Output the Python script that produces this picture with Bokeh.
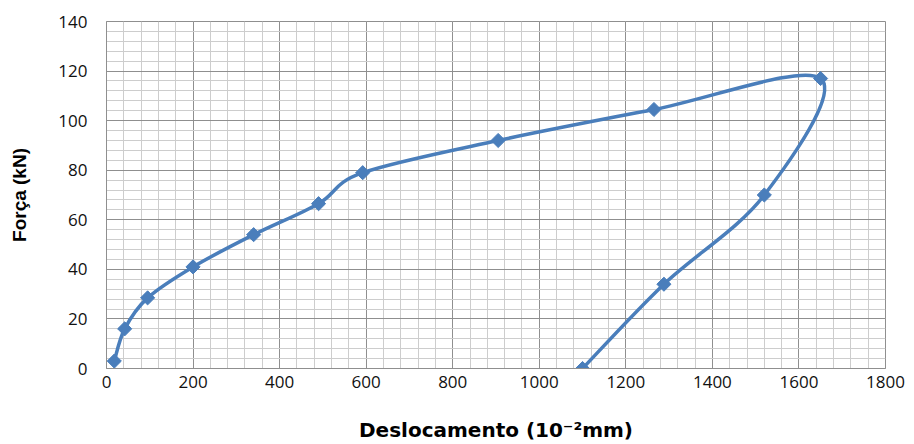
import math
from bokeh.plotting import figure
from bokeh.models import SingleIntervalTicker, Range1d, ColumnDataSource
from bokeh.embed import file_html
from bokeh.resources import INLINE

# Data
deslocamento = [18, 42, 95, 200, 340, 490, 592, 905, 1265, 1650, 1520, 1288, 1100]
forca = [3, 16, 28.5, 41, 54, 66.5, 79, 92, 104.5, 117, 70, 34, 0]

x_ticks_interval = 200
y_ticks_interval = 20

BLUE = "#4A7EBB"

# Smoothed (Catmull-Rom style) Bezier segments computed from the data points
n = len(deslocamento)
pts = list(zip(deslocamento, forca))
seg = dict(x0=[], y0=[], x1=[], y1=[], cx0=[], cy0=[], cx1=[], cy1=[])
for i in range(n - 1):
    p0 = pts[i - 1] if i > 0 else pts[i]
    p1 = pts[i]
    p2 = pts[i + 1]
    p3 = pts[i + 2] if i + 2 < n else pts[i + 1]
    seg["x0"].append(p1[0]); seg["y0"].append(p1[1])
    seg["x1"].append(p2[0]); seg["y1"].append(p2[1])
    seg["cx0"].append(p1[0] + (p2[0] - p0[0]) / 6)
    seg["cy0"].append(p1[1] + (p2[1] - p0[1]) / 6)
    seg["cx1"].append(p2[0] - (p3[0] - p1[0]) / 6)
    seg["cy1"].append(p2[1] - (p3[1] - p1[1]) / 6)

p = figure(width=912, height=444, output_backend="svg", toolbar_location=None,
           x_range=Range1d(0, 1800), y_range=Range1d(0, 140),
           min_border_left=106, min_border_right=27, min_border_top=21, min_border_bottom=76)

p.xaxis.ticker = SingleIntervalTicker(interval=x_ticks_interval, num_minor_ticks=5)
p.yaxis.ticker = SingleIntervalTicker(interval=y_ticks_interval, num_minor_ticks=5)

p.xgrid.grid_line_color = "#8f8f8f"
p.ygrid.grid_line_color = "#8f8f8f"
p.xgrid.minor_grid_line_color = "#cdcdcd"
p.ygrid.minor_grid_line_color = "#cdcdcd"
p.xgrid.level = "underlay"
p.ygrid.level = "underlay"

p.outline_line_color = "#8f8f8f"

for ax in (p.xaxis[0], p.yaxis[0]):
    ax.axis_line_color = "#8f8f8f"
    ax.major_tick_out = 0
    ax.major_tick_in = 0
    ax.minor_tick_out = 0
    ax.minor_tick_in = 0
    ax.major_label_text_font = "Open Sans"
    ax.major_label_text_font_size = "17px"
    ax.major_label_text_color = "#111111"
    ax.axis_label_text_font_style = "bold"
    ax.axis_label_text_color = "#000000"

p.xaxis.axis_label_text_font = "DejaVu Sans"
p.xaxis.axis_label_text_font_size = "20px"
p.yaxis.axis_label_text_font = "Liberation Sans"
p.yaxis.axis_label_text_font_size = "19px"
p.xaxis.axis_label = "Deslocamento (10\u207b\u00b2mm)"
p.yaxis.axis_label = "Força (kN)"
p.xaxis.major_label_standoff = 7
p.yaxis.major_label_standoff = 19
p.xaxis.axis_label_standoff = 27
p.yaxis.axis_label_standoff = 25

p.bezier(x0="x0", y0="y0", x1="x1", y1="y1", cx0="cx0", cy0="cy0", cx1="cx1", cy1="cy1",
         source=ColumnDataSource(seg), line_color=BLUE, line_width=3.5)
p.scatter(deslocamento, forca, marker="square", angle=math.pi / 4, size=10,
          fill_color=BLUE, line_color=BLUE)

open("out.html", "w").write(file_html(p, INLINE))
